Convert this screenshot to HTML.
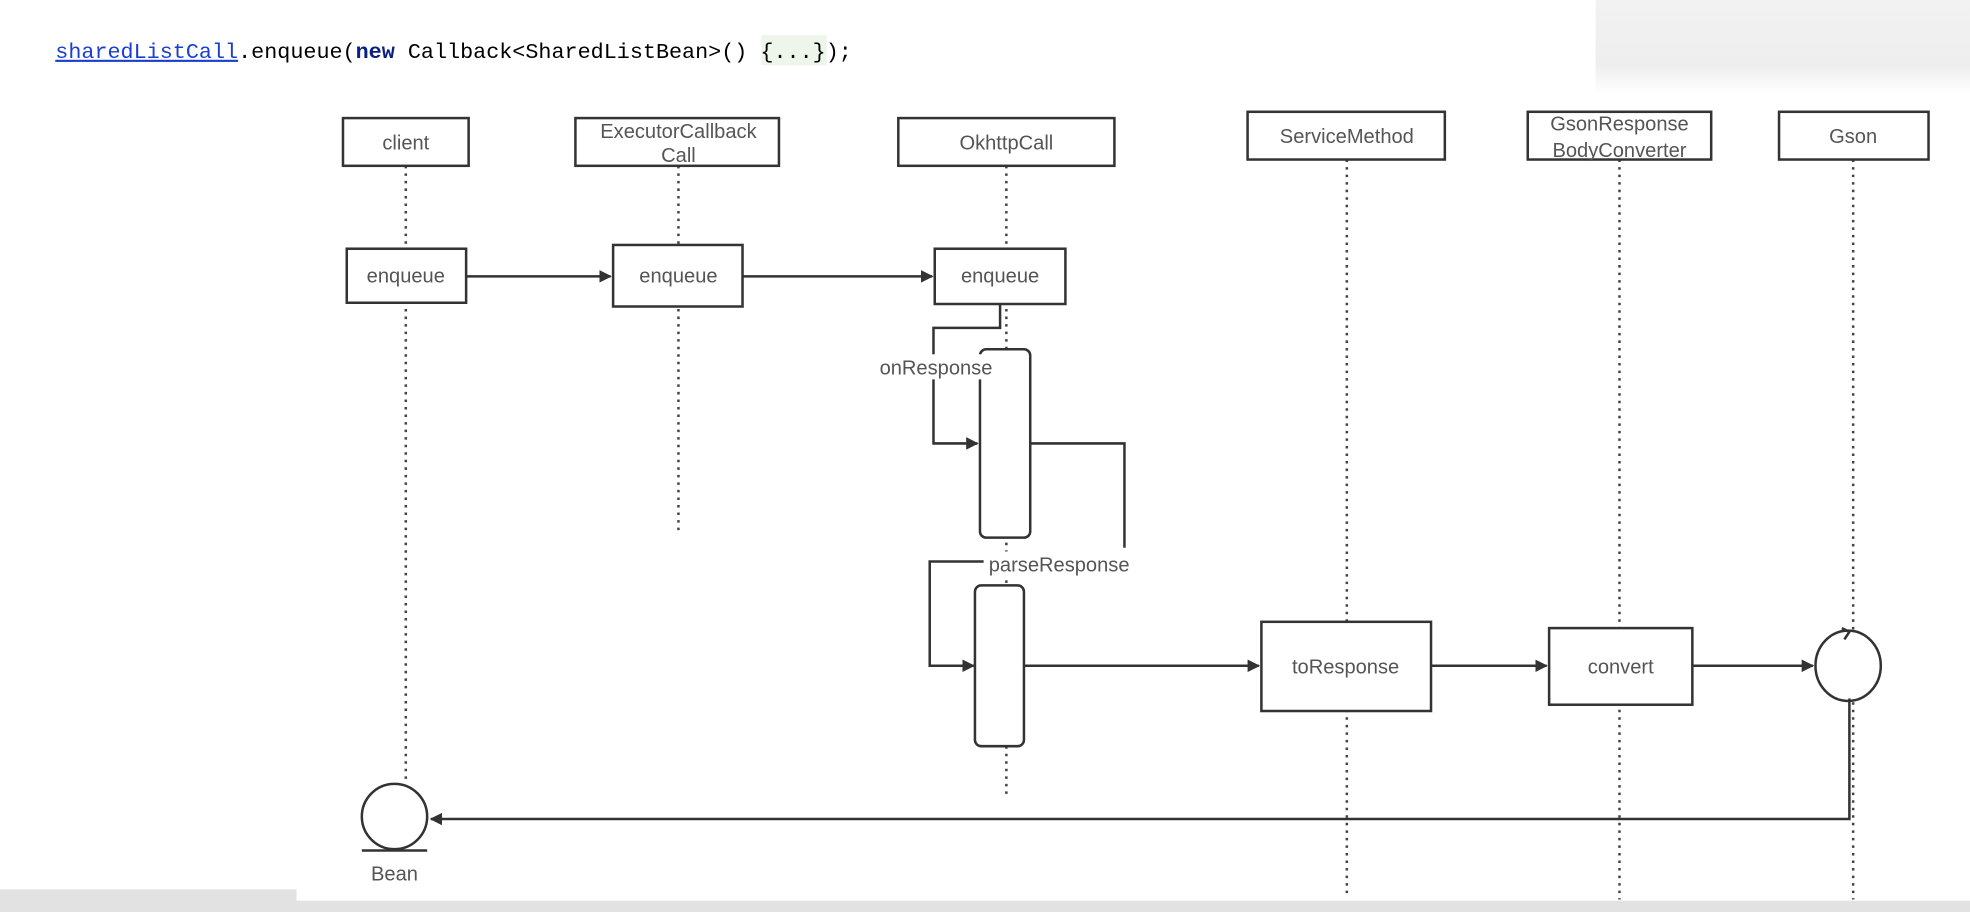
<!DOCTYPE html>
<html><head><meta charset="utf-8"><style>
html,body{margin:0;padding:0;background:#fff;}
svg{display:block;}
</style></head><body>
<svg width="1970" height="912" viewBox="0 0 1568 726" preserveAspectRatio="none" xmlns="http://www.w3.org/2000/svg">
<defs>
<linearGradient id="g" x1="0" y1="0" x2="0" y2="1"><stop offset="0" stop-color="#f2f2f2"/><stop offset="0.7" stop-color="#eeeeee"/><stop offset="1" stop-color="#ffffff"/></linearGradient>
<marker id="a" markerWidth="10" markerHeight="10" refX="9" refY="5" orient="auto" markerUnits="userSpaceOnUse"><path d="M0,0 L10,5 L0,10 z" fill="#333"/></marker>
</defs>
<rect x="1270" y="0" width="298" height="75" fill="url(#g)"/>
<rect x="0" y="708" width="236" height="18" fill="#e2e2e2"/>
<rect x="236" y="717" width="1332" height="9" fill="#e2e2e2"/>
<rect x="606" y="28" width="52" height="24" fill="#eef5ea"/>
<text x="44" y="46" font-family="Liberation Mono, monospace" font-size="17" textLength="634" lengthAdjust="spacingAndGlyphs"><tspan fill="#1a3fd0" text-decoration="underline">sharedListCall</tspan><tspan fill="#000">.enqueue(</tspan><tspan fill="#0b1f80" font-weight="bold">new</tspan><tspan fill="#000"> Callback&lt;SharedListBean&gt;() {...});</tspan></text>
<g stroke="#444" stroke-width="2" stroke-dasharray="2,4" fill="none">
<line x1="323" y1="132" x2="323" y2="620"/>
<line x1="540" y1="132" x2="540" y2="422"/>
<line x1="801" y1="132" x2="801" y2="633"/>
<line x1="1072" y1="127" x2="1072" y2="712"/>
<line x1="1289" y1="127" x2="1289" y2="716"/>
<line x1="1475" y1="127" x2="1475" y2="716"/>
</g>
<g stroke="#333" stroke-width="2" fill="#fff">
<rect x="273" y="94" width="100" height="38"/>
<rect x="458" y="94" width="162" height="38"/>
<rect x="715" y="94" width="172" height="38"/>
<rect x="993" y="89" width="157" height="38"/>
<rect x="1216" y="89" width="146" height="38"/>
<rect x="1416" y="89" width="119" height="38"/>
<rect x="276" y="198" width="95" height="43"/>
<rect x="488" y="195" width="103" height="49"/>
<rect x="744" y="198" width="104" height="44"/>
<rect x="780" y="278" width="40" height="150" rx="5"/>
<rect x="776" y="466" width="39" height="128" rx="5"/>
<rect x="1004" y="495" width="135" height="71"/>
<rect x="1233" y="500" width="114" height="61"/>
<ellipse cx="1471" cy="530" rx="26" ry="28"/>
<circle cx="314" cy="650" r="26"/>
</g>
<g stroke="#333" stroke-width="2" fill="none">
<line x1="371" y1="220" x2="486" y2="220" marker-end="url(#a)"/>
<line x1="591" y1="220" x2="742" y2="220" marker-end="url(#a)"/>
<polyline points="796,242 796,261 743,261 743,353 778,353" marker-end="url(#a)"/>
<polyline points="820,353 895,353 895,436"/>
<polyline points="783,447 740,447 740,530 775,530" marker-end="url(#a)"/>
<line x1="815" y1="530" x2="1002" y2="530" marker-end="url(#a)"/>
<line x1="1139" y1="530" x2="1231" y2="530" marker-end="url(#a)"/>
<line x1="1347" y1="530" x2="1443" y2="530" marker-end="url(#a)"/>
<polyline points="1472,556 1472,652 343,652" marker-end="url(#a)"/>
<line x1="288" y1="677" x2="340" y2="677"/>
<polyline points="1466,500 1472,503 1468,509"/>
</g>
<rect x="696" y="282" width="98" height="20" fill="#fff"/>
<rect x="783" y="439" width="120" height="20" fill="#fff"/>
<g font-family="Liberation Sans, sans-serif" font-size="16" fill="#555" text-anchor="middle">
<text x="323" y="119">client</text>
<text x="540" y="110">ExecutorCallback</text>
<text x="540" y="129">Call</text>
<text x="801" y="119">OkhttpCall</text>
<text x="1072" y="114">ServiceMethod</text>
<text x="1289" y="104">GsonResponse</text>
<text x="1289" y="125">BodyConverter</text>
<text x="1475" y="114">Gson</text>
<text x="323" y="225">enqueue</text>
<text x="540" y="225">enqueue</text>
<text x="796" y="225">enqueue</text>
<text x="745" y="298">onResponse</text>
<text x="843" y="455">parseResponse</text>
<text x="1071" y="536">toResponse</text>
<text x="1290" y="536">convert</text>
<text x="314" y="701">Bean</text>
</g>
</svg>
</body></html>
